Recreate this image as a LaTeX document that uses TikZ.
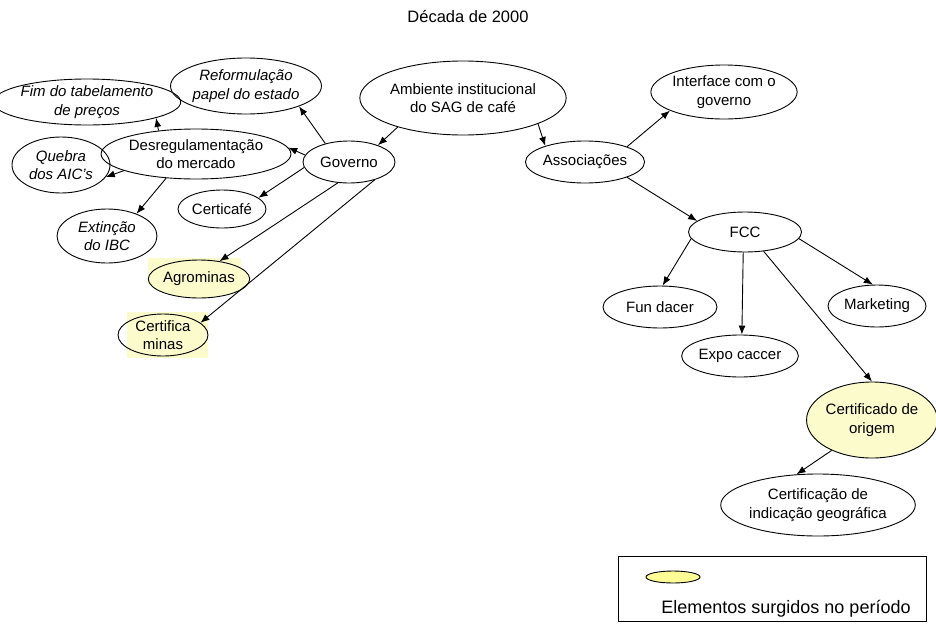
\documentclass[tikz,border=0pt]{standalone}
\usepackage{fontspec}
\setmainfont{Liberation Sans}
\usetikzlibrary{shapes.geometric,arrows.meta}
\definecolor{paleyel}{RGB}{251,251,204}
\definecolor{legyel}{RGB}{255,255,150}
\tikzset{
  ell/.style={ellipse, draw, line width=0.9pt, inner sep=0pt, align=center,
    font=\fontsize{15}{18.5}\selectfont},
  itell/.style={ell, font=\fontsize{15}{18.5}\selectfont\itshape},
  arr/.style={-{Latex[length=9pt,width=7pt]}, line width=0.9pt},
  hl/.style={fill=paleyel, draw=none}
}
\begin{document}
\begin{tikzpicture}[x=1pt,y=-1pt]
\useasboundingbox (0,0) rectangle (936,624);
\fill[white] (0,0) rectangle (936,624);

\node[font=\fontsize{16.5}{19}\selectfont] (title) at (468,17) {Década de 2000};

% highlights
\fill[hl] (148,258) rectangle (241,285);
\fill[hl] (127,312) rectangle (208,358);

\node[ell, minimum width=190, minimum height=74] (amb) at (463,98) {Ambiente institucional\\do SAG de café};
\node[ell, minimum width=103, minimum height=42] (assoc) at (585,162) {Associações};
\node[ell, minimum width=126, minimum height=54] (iface) at (724,92) {Interface com o\\governo};
\node[ell, minimum width=92, minimum height=42] (gov) at (349,162) {Governo};
\node[itell, minimum width=140, minimum height=56] (reform) at (246,86) {Reformulação\\papel do estado};
\node[itell, minimum width=162, minimum height=46] (fim) at (87,102) {Fim do tabelamento\\de preços};
\node[ell, minimum width=158, minimum height=50] (desreg) at (196,154) {Desregulamentação\\do mercado};
\node[itell, minimum width=98, minimum height=56] (quebra) at (61,165) {Quebra\\dos AIC's};
\node[ell, minimum width=88, minimum height=38] (certicafe) at (222,209) {Certicafé};
\node[itell, minimum width=100, minimum height=54] (ext) at (107,236) {Extinção\\do IBC};
\node[ell, fill=paleyel, minimum width=86, minimum height=38] (agro) at (199,279) {Agrominas};
\node[ell, minimum width=90, minimum height=42] (certmin) at (163,335) {Certifica\\minas};

\node[ell, minimum width=113, minimum height=40] (fcc) at (745,232) {FCC};
\node[ell, minimum width=114, minimum height=42] (fun) at (660,307) {Fun dacer};
\node[ell, minimum width=98, minimum height=42] (mkt) at (877,306) {Marketing};
\node[ell, minimum width=114, minimum height=42] (expo) at (740,356) {Expo caccer};
\node[ell, fill=paleyel, minimum width=128, minimum height=76] (corig) at (872,420) {Certificado de\\origem};
\node[ell, minimum width=144, minimum height=62] (cind) at (818,505) {Certificação de\\indicação geográfica};

% arrows
\draw[arr] (amb.204) -- (gov.30);
\draw[arr] (amb.-19) -- (assoc.158);
\draw[arr] (assoc.20) -- (iface.199);
\draw[arr] (assoc.-20) -- (fcc.167);
\draw[arr] (gov.142) -- (reform.-21);
\draw[arr] (gov.171) -- (desreg.4);
\draw[arr] (gov.187) -- (certicafe.17);
\draw[arr] (gov.242) -- (agro.41);
\draw[arr] (gov.-35) -- (certmin.18);
\draw[arr] (desreg.148) -- (fim.-13);
\draw[arr] (desreg.193) -- (quebra.-15);
\draw[arr] (desreg.219) -- (ext.37);
\draw[arr] (fcc.187) -- (fun.83);
\draw[arr] (fcc.-95) -- (expo.85);
\draw[arr] (fcc.-7) -- (mkt.101);
\draw[arr] (fcc.-46) -- (corig.90);
\draw[arr] (corig.217) -- (cind.125);

% legend
\node[draw, line width=0.9pt, minimum width=308, minimum height=65, inner sep=0pt] (legbox) at (772,588.5) {};
\node[ellipse, draw, line width=0.9pt, fill=legyel, minimum width=54, minimum height=12, inner sep=0pt] (legell) at (673,577) {};
\node[font=\fontsize{18}{21}\selectfont] (legtext) at (786,609) {Elementos surgidos no período};
\end{tikzpicture}
\end{document}
